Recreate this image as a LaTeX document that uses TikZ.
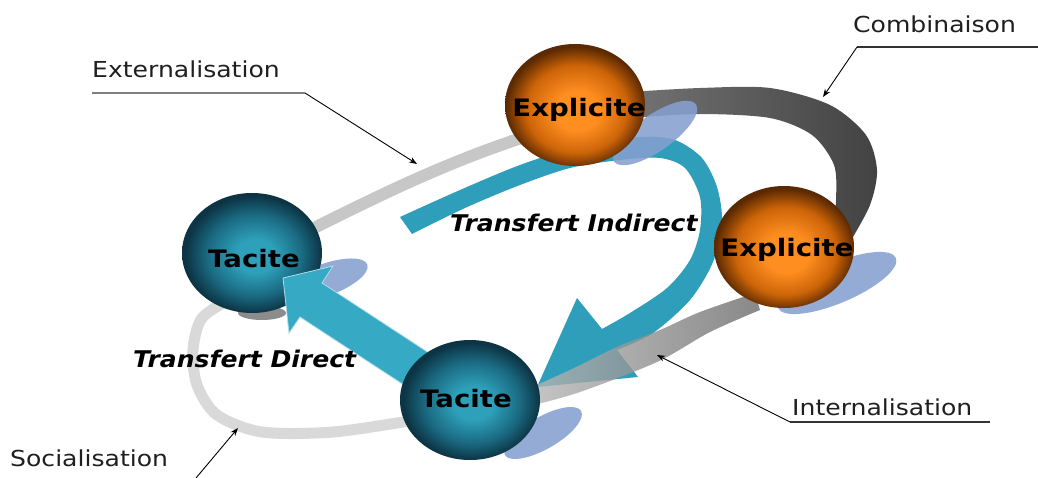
\documentclass[tikz,border=0pt]{standalone}
\usepackage{fontspec}
\setmainfont{DejaVu Sans}
\newfontfamily\lblfont[FakeStretch=1.14]{DejaVu Sans}
\newfontfamily\orbfont[FakeStretch=1.15]{DejaVu Sans}
\newfontfamily\trfont[FakeStretch=1.09]{DejaVu Sans}
\usetikzlibrary{arrows.meta,shapes.geometric}
\definecolor{tealhi}{HTML}{2EA0B9}
\definecolor{tealmid}{HTML}{1A6A82}
\definecolor{tealdark}{HTML}{0C3444}
\definecolor{orhi}{HTML}{FF8E20}
\definecolor{ormid}{HTML}{CC6408}
\definecolor{ordark}{HTML}{5C2A02}
\definecolor{arrowc}{HTML}{36A9C5}
\definecolor{bandc}{HTML}{2E9EBA}
\definecolor{shadowc}{HTML}{86A0D0}
\pgfdeclareradialshading{tealball}{\pgfpoint{1.5bp}{-1.5bp}}{%
  color(0bp)=(tealhi); color(7bp)=(tealhi); color(17bp)=(tealmid); color(24.5bp)=(tealdark); color(40bp)=(tealdark)}
\pgfdeclareradialshading{orball}{\pgfpoint{1bp}{-3bp}}{%
  color(0bp)=(orhi); color(8bp)=(orhi); color(18bp)=(ormid); color(25bp)=(ordark); color(40bp)=(ordark)}
\begin{document}
\begin{tikzpicture}[x=1pt,y=-1pt,
  lbl/.style={font=\lblfont\fontsize{22}{26}\selectfont, text=black!88, inner sep=0pt, anchor=base west},
  orbtxt/.style={font=\orbfont\bfseries\fontsize{24}{28}\selectfont, text=black, inner sep=0pt, anchor=base},
  trtxt/.style={font=\trfont\bfseries\itshape\fontsize{23}{27}\selectfont, text=black, inner sep=0pt, anchor=base west},
  uline/.style={draw=black!80, line width=1.1pt},
  ptr/.style={draw=black, line width=0.9pt, -{Stealth[length=8pt,width=6pt]}},
  orbT/.style={ellipse, minimum width=140pt, minimum height=120pt, inner sep=0pt, shade, shading=tealball},
  orbO/.style={ellipse, minimum width=140pt, minimum height=122pt, inner sep=0pt, shade, shading=orball},
  shad/.style={fill=shadowc, fill opacity=0.88},
]
\useasboundingbox (0,0) rectangle (1038,478);
\fill[white] (0,0) rectangle (1038,478);

% gray ring segments
\draw[draw=black!22, line width=12pt] (300,235) .. controls (380,195) and (450,160) .. (540,132);
\draw[draw=black!15, line width=11pt] plot[smooth] coordinates {(232,298) (202,318) (193,350) (197,385) (217,415) (262,432) (333,432) (415,420)};
\shade[left color=black!55, right color=black!74]
  plot[smooth] coordinates {(630,92) (700,88) (770,88) (830,105) (866,135) (877,170) (870,205) (850,242)}
  -- plot[smooth] coordinates {(832,238) (836,200) (834,165) (812,135) (770,118) (700,114) (630,118)} -- cycle;

% transfert indirect band with head
\fill[bandc]
  plot[smooth] coordinates {(400,217) (460,190) (520,165) (580,146) (640,137) (675,140) (702,158) (717,187) (722,222) (713,262) (690,300) (653,333) (617,350)}
  -- (638,377) -- (537,387) -- (577,298) -- (602,329)
  -- plot[smooth] coordinates {(602,329) (630,313) (667,288) (690,260) (700,230) (700,197) (685,168) (660,158) (620,160) (570,168) (520,185) (465,208) (412,234)} -- cycle;

% internalisation band
\shade[left color=black!28, right color=black!58, opacity=0.8]
  plot[smooth] coordinates {(755,293) (700,312) (660,330) (617,347) (570,370) (530,388)}
  -- plot[smooth] coordinates {(530,406) (580,392) (657,362) (710,332) (760,310)} -- cycle;

% shadows
\fill[shad, rotate around={35:(655,133)}] (655,133) ellipse [x radius=50, y radius=18];
\fill[shad, rotate around={23:(837,283)}] (837,283) ellipse [x radius=64, y radius=20];
\fill[shad, rotate around={20:(325,280)}] (325,280) ellipse [x radius=45, y radius=16];
\fill[shad, rotate around={30:(543,433)}] (543,433) ellipse [x radius=44, y radius=16];
\fill[black!45] (262,313) ellipse [x radius=24, y radius=7];

% spheres
\node[orbT] (tl) at (252,253) {};
\fill[arrowc, draw=white!60!arrowc, line width=0.8pt]
  (283,278) -- (333,266) -- (322,283) -- (429,353) -- (407,387) -- (300,317) -- (289,333) -- cycle;
\node[orbT] (tb) at (470,400) {};
\node[orbO] (et) at (575,105) {};
\node[orbO] (er) at (784,247) {};

\node[orbtxt] (tlt) at (254,267) {Tacite};
\node[orbtxt] (tbt) at (466,407) {Tacite};
\node[orbtxt] (ett) at (579,117) {Explicite};
\node[orbtxt] (ert) at (787,257) {Explicite};

\node[trtxt] (ti) at (450,232) {Transfert Indirect};
\node[trtxt] (td) at (133,367) {Transfert Direct};

% labels
\node[lbl] (ext) at (92,78) {Externalisation};
\coordinate (extL) at (92,93);
\coordinate (extR) at (305,93);
\coordinate (extT) at (417,164);
\draw[uline, draw=black!50] (extL) -- (extR);
\draw[ptr] (extR) -- (extT);

\node[lbl] (comb) at (853,33) {Combinaison};
\coordinate (combL) at (857,47);
\coordinate (combR) at (1038,47);
\coordinate (combT) at (823,97);
\draw[uline] (combL) -- (combR);
\draw[ptr] (combL) -- (combT);

\node[lbl] (intl) at (792,415) {Internalisation};
\coordinate (intL) at (790,422);
\coordinate (intR) at (990,422);
\coordinate (intT) at (657,355);
\draw[uline] (intL) -- (intR);
\draw[ptr] (intL) -- (intT);

\node[lbl] (soc) at (10,466) {Socialisation};
\coordinate (socS) at (196,478);
\coordinate (socT) at (238,428);
\draw[ptr] (socS) -- (socT);
\end{tikzpicture}
\end{document}
